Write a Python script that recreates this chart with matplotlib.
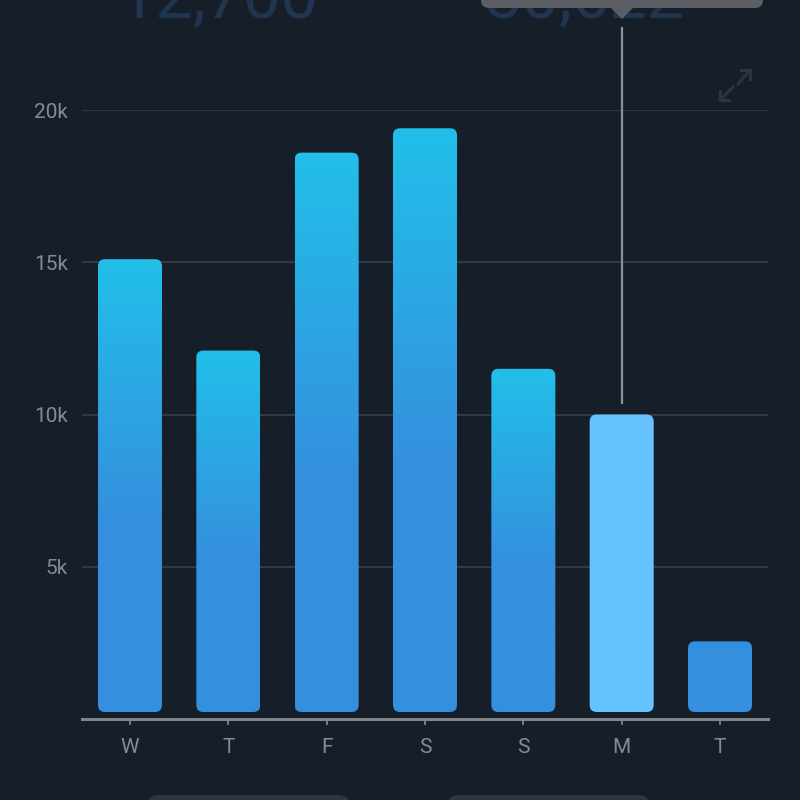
import numpy as np
import matplotlib.pyplot as plt
from matplotlib.patches import FancyBboxPatch, Polygon
from matplotlib.lines import Line2D
import matplotlib.transforms as mtransforms
from matplotlib.colors import LinearSegmentedColormap
from matplotlib import font_manager

days = ['W', 'T', 'F', 'S', 'S', 'M', 'T']
steps = [15100, 12100, 18600, 19400, 11500, 10000, 2550]
yticks = [5000, 10000, 15000, 20000]
ytick_labels = ['5k', '10k', '15k', '20k']
header_left = '12,700'
header_right = '30,622'
selected = 5      # highlighted bar (tooltip)
flat_bars = [6]   # bars drawn without gradient

BG = '#161e29'
GRID = '#363d47'
AXIS = '#818488'
LABEL = '#868b92'
TOP_C = '#22bfe9'
BOT_C = '#3490de'
HIGHLIGHT = '#66c3ff'

# pick a narrow font if we have one
names = {f.name for f in font_manager.fontManager.ttflist}
narrow = 'Liberation Sans Narrow' if 'Liberation Sans Narrow' in names else 'Roboto'
plt.rcParams['font.family'] = [narrow, 'DejaVu Sans']

W, H = 800, 800
fig = plt.figure(figsize=(8, 8), dpi=100, facecolor=BG)


def fx(x):
    return x / W


def fy(y):
    return 1 - y / H


ax = fig.add_axes([fx(82), fy(719), (768 - 82) / W, (719 - 110) / H])
ax.set_facecolor(BG)
ax.set_xlim(-0.488, 6.488)
ax.set_ylim(0, 20000)

# scale helpers (pixels <-> data)
x_per_px = (6.488 + 0.488) / 686
y_per_px = 20000 / (719 - 110)

bar_w = 64 * x_per_px
gap = 7 * y_per_px
radius = 7 * x_per_px
aspect = y_per_px / x_per_px

cmap = LinearSegmentedColormap.from_list('bars', [(0, TOP_C), (0.57, BOT_C), (1, BOT_C)])
grad = np.linspace(0, 1, 256).reshape(-1, 1)

for i, v in enumerate(steps):
    x0 = i - bar_w / 2
    patch = FancyBboxPatch((x0, gap), bar_w, v - gap,
                           boxstyle=f'round,pad=0,rounding_size={radius}',
                           mutation_aspect=aspect, transform=ax.transData,
                           linewidth=0, zorder=3)
    if i == selected:
        patch.set_facecolor(HIGHLIGHT)
        ax.add_patch(patch)
    elif i in flat_bars:
        patch.set_facecolor(BOT_C)
        ax.add_patch(patch)
    else:
        patch.set_facecolor('none')
        ax.add_patch(patch)
        im = ax.imshow(grad, cmap=cmap, aspect='auto', origin='upper',
                       extent=[x0, x0 + bar_w, gap, v], zorder=3)
        im.set_clip_path(patch)

ax.set_xlim(-0.488, 6.488)
ax.set_ylim(0, 20000)

ax.set_yticks(yticks)
ax.set_yticklabels(ytick_labels)
ax.set_xticks(range(len(days)))
ax.set_xticklabels(days)
ax.yaxis.grid(True, color=GRID, linewidth=1.3)
ax.set_axisbelow(True)
ax.tick_params(axis='y', length=0, pad=10, labelsize=15, labelcolor=LABEL)
ax.tick_params(axis='x', length=4.5, width=1.3, color=AXIS, pad=9,
               labelsize=15, labelcolor=LABEL)
for s in ['top', 'right', 'left']:
    ax.spines[s].set_visible(False)
ax.spines['bottom'].set_color(AXIS)
ax.spines['bottom'].set_linewidth(2.2)

# tooltip marker line above the selected bar
blend = mtransforms.blended_transform_factory(ax.transData, fig.transFigure)
bar_top_px = 719 - steps[selected] / y_per_px
ax.add_line(Line2D([selected, selected], [fy(bar_top_px - 12), fy(28)],
                   transform=blend, color='#8e9297', linewidth=1.6,
                   clip_on=False, zorder=4))

# header numbers (partly scrolled off the top)
fig.text(fx(218), fy(18), header_left, ha='center', va='baseline',
         fontsize=48, color='#1f3550')
fig.text(fx(585), fy(18), header_right, ha='center', va='baseline',
         fontsize=48, color='#1f3550')

# tooltip box and pointer
tip = FancyBboxPatch((fx(481), fy(8)), fx(763) - fx(481), 0.05,
                     boxstyle='round,pad=0,rounding_size=0.01',
                     transform=fig.transFigure, facecolor='#5b5e62',
                     linewidth=0, zorder=5)
fig.patches.append(tip)
fig.patches.append(Polygon([(fx(610), fy(7)), (fx(634), fy(7)), (fx(622), fy(19))],
                           closed=True, transform=fig.transFigure,
                           facecolor='#5b5e62', linewidth=0, zorder=5))

# expand icon
icon_c = '#2b3441'
for (xa, ya, xb, yb) in [(738, 84, 750, 70), (733, 87, 720, 100)]:
    fig.add_artist(Line2D([fx(xa), fx(xb)], [fy(ya), fy(yb)], color=icon_c,
                          linewidth=2.2, transform=fig.transFigure))
fig.add_artist(Line2D([fx(741), fx(750), fx(750)], [fy(70), fy(70), fy(79)],
                      color=icon_c, linewidth=2.2, transform=fig.transFigure))
fig.add_artist(Line2D([fx(720), fx(720), fx(729)], [fy(91), fy(100), fy(100)],
                      color=icon_c, linewidth=2.2, transform=fig.transFigure))

# bottom buttons peeking in
for (xa, xb) in [(147, 350), (447, 650)]:
    fig.patches.append(FancyBboxPatch((fx(xa), fy(830)), fx(xb) - fx(xa), 35 / H,
                                      boxstyle='round,pad=0,rounding_size=0.015',
                                      transform=fig.transFigure, facecolor='#2f353d',
                                      linewidth=0))

fig.savefig('out.png', dpi=100, facecolor=BG)
